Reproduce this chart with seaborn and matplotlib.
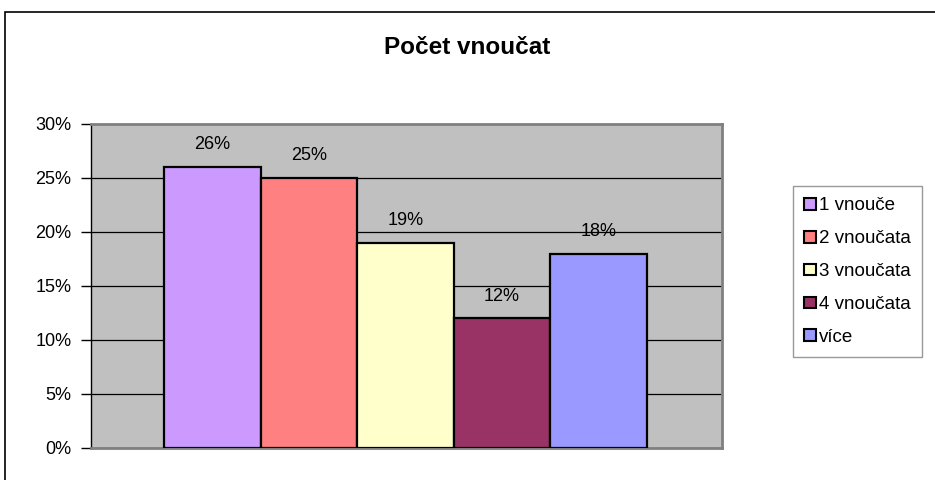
import numpy as np
import pandas as pd
import seaborn as sns
import matplotlib.pyplot as plt
from matplotlib.patches import Rectangle, Patch
from matplotlib.ticker import PercentFormatter

# data
kategorie = ['1 vnouče', '2 vnoučata', '3 vnoučata', '4 vnoučata', 'více']
podil = [0.26, 0.25, 0.19, 0.12, 0.18]
barvy = ['#CC99FF', '#FF8080', '#FFFFCC', '#993366', '#9999FF']

df = pd.DataFrame({'kategorie': kategorie, 'podil': podil})

sns.set_style('white')
plt.rcParams['font.family'] = ['Liberation Sans', 'DejaVu Sans']
plt.rcParams['text.color'] = 'black'
plt.rcParams['ytick.color'] = 'black'
plt.rcParams['xtick.color'] = 'black'

fig = plt.figure(figsize=(9.35, 4.8), dpi=100)
ax = fig.add_axes([91 / 935, 1 - 448 / 480, (722 - 91) / 935, (448 - 124) / 480])
ax.set_facecolor('#C0C0C0')

sns.barplot(data=df, x='kategorie', y='podil', hue='kategorie',
            palette=barvy, width=1.0, legend=False, ax=ax,
            edgecolor='black', linewidth=1.6, saturation=1, zorder=3)

ax.set_xlim(-1.256, 5.28)
ax.set_ylim(0, 0.30)
ax.set_yticks(np.arange(0, 0.31, 0.05))
ax.yaxis.set_major_formatter(PercentFormatter(1.0, decimals=0))
ax.grid(axis='y', color='black', linewidth=0.9, zorder=0)
ax.set_axisbelow(True)
ax.set_xticks([])
ax.set_xlabel('')
ax.set_ylabel('')
ax.tick_params(axis='y', left=True, length=7, width=1, color='black',
               labelcolor='black', labelsize=13, pad=7)

for side in ['top', 'right', 'bottom']:
    ax.spines[side].set_color('#808080')
    ax.spines[side].set_linewidth(2)
ax.spines['left'].set_color('black')
ax.spines['left'].set_linewidth(1)

for cont in ax.containers:
    ax.bar_label(cont, labels=[f'{v*100:.0f}%' for v in cont.datavalues],
                 padding=10, fontsize=13, color='black')

fig.text(0.5, 1 - 47 / 480, 'Počet vnoučat', ha='center', va='center',
         fontsize=17.5, fontweight='bold', color='black')

handles = [Patch(facecolor=c, edgecolor='black', linewidth=1.5) for c in barvy]
leg = fig.legend(handles, kategorie, loc='upper left',
                 bbox_to_anchor=(793 / 935, 1 - 186 / 480),
                 fontsize=13.5, frameon=True, fancybox=False,
                 handlelength=0.6, handleheight=0.6, handletextpad=0.2,
                 labelspacing=0.85, borderpad=0.6, borderaxespad=0,
                 labelcolor='black')
leg.get_frame().set_edgecolor('#808080')
leg.get_frame().set_linewidth(1)

fig.patches.append(Rectangle((5 / 935, -0.05), 1.0, 1 - 12 / 480 + 0.05,
                             transform=fig.transFigure, fill=False,
                             edgecolor='black', linewidth=1.2))

fig.savefig('out.png', dpi=100)
